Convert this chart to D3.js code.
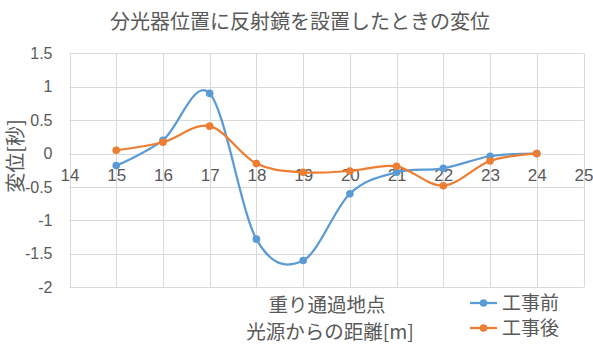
<!DOCTYPE html>
<html>
<head>
<meta charset="utf-8">
<script src="https://cdn.jsdelivr.net/npm/d3@7"></script>
<style>
  html, body { margin: 0; padding: 0; background: #fff; }
  svg { display: block; }
  text { fill: #595959; }
</style>
</head>
<body>
<svg id="chart" width="593" height="345"></svg>
<script>
// Distance from the light source [m]
const distances = [15, 16, 17, 18, 19, 20, 21, 22, 23, 24];
// Displacement [s] before and after the works
const beforeValues = [-0.18, 0.2, 0.9, -1.28, -1.6, -0.6, -0.28, -0.22, -0.04, 0];
const afterValues  = [0.05, 0.17, 0.41, -0.15, -0.28, -0.26, -0.19, -0.48, -0.11, 0];
const xTicks = [14, 15, 16, 17, 18, 19, 20, 21, 22, 23, 24, 25];
const yTicks = [1.5, 1, 0.5, 0, -0.5, -1, -1.5, -2];
const seriesNames = ["工事前", "工事後"];
const seriesColors = ["#5B9BD5", "#ED7D31"];

const svg = d3.select("#chart");
const jp = "'Noto Sans CJK JP', 'Noto Sans', sans-serif";
const num = "'Liberation Sans', 'Noto Sans', sans-serif";

const x = d3.scaleLinear().domain([14, 25]).range([69.5, 583.5]);
const y = d3.scaleLinear().domain([-2, 1.5]).range([287.3, 53.3]);

// Gridlines
const grid = svg.append("g").attr("stroke", "#d9d9d9").attr("stroke-width", 1);
grid.selectAll("line.v").data(xTicks).join("line")
  .attr("x1", d => Math.round(x(d)) + 0.5).attr("x2", d => Math.round(x(d)) + 0.5)
  .attr("y1", y(1.5)).attr("y2", y(-2));
grid.selectAll("line.h").data(yTicks).join("line")
  .attr("x1", x(14)).attr("x2", x(25))
  .attr("y1", d => Math.round(y(d)) + 0.5).attr("y2", d => Math.round(y(d)) + 0.5);

// Y axis labels
const yAxis = d3.axisLeft(y).tickValues(yTicks).tickSize(0).tickPadding(0)
  .tickFormat(d => String(d));
svg.append("g").attr("transform", `translate(${x(14) - 17},0)`).call(yAxis)
  .call(g => g.select(".domain").remove())
  .selectAll("text").attr("font-family", num).attr("font-size", 16).attr("fill", "#595959");

// X axis labels, sitting just under the zero line
const xAxis = d3.axisBottom(x).tickValues(xTicks).tickSize(0).tickPadding(0)
  .tickFormat(d => String(d));
svg.append("g").attr("transform", `translate(0,${y(0) + 15})`).call(xAxis)
  .call(g => g.select(".domain").remove())
  .selectAll("text").attr("font-family", num).attr("font-size", 17).attr("fill", "#595959");

// Series
const seriesData = [beforeValues, afterValues];
const line = d3.line().x((d, i) => x(distances[i])).y(d => y(d))
  .curve(d3.curveCardinal.tension(0));
seriesData.forEach((vals, s) => {
  svg.append("path").datum(vals).attr("d", line)
    .attr("fill", "none").attr("stroke", seriesColors[s]).attr("stroke-width", 2.25)
    .attr("stroke-linejoin", "round");
  svg.append("g").selectAll("circle").data(vals).join("circle")
    .attr("cx", (d, i) => x(distances[i])).attr("cy", d => y(d))
    .attr("r", 3.8).attr("fill", seriesColors[s]);
});

// Title
svg.append("text").attr("x", 300).attr("y", 29).attr("text-anchor", "middle")
  .attr("font-family", jp).attr("font-size", 20).text("分光器位置に反射鏡を設置したときの変位");

// Axis titles
svg.append("text").attr("x", 327).attr("y", 312).attr("text-anchor", "middle")
  .attr("font-family", jp).attr("font-size", 19.5).text("重り通過地点");
svg.append("text").attr("x", 330).attr("y", 339).attr("text-anchor", "middle")
  .attr("font-family", jp).attr("font-size", 19.5).text("光源からの距離[m]");
svg.append("text").attr("transform", "translate(23,156) rotate(-90)")
  .attr("text-anchor", "middle").attr("font-family", jp).attr("font-size", 20).text("変位[秒]");

// Legend
const legend = svg.append("g");
seriesNames.forEach((name, i) => {
  const ly = 303 + i * 25;
  legend.append("line").attr("x1", 470).attr("x2", 497).attr("y1", ly).attr("y2", ly)
    .attr("stroke", seriesColors[i]).attr("stroke-width", 2.25);
  legend.append("circle").attr("cx", 483.5).attr("cy", ly).attr("r", 3.8).attr("fill", seriesColors[i]);
  legend.append("text").attr("x", 502).attr("y", ly + 7).attr("font-family", jp)
    .attr("font-size", 19).text(name);
});
</script>
</body>
</html>
